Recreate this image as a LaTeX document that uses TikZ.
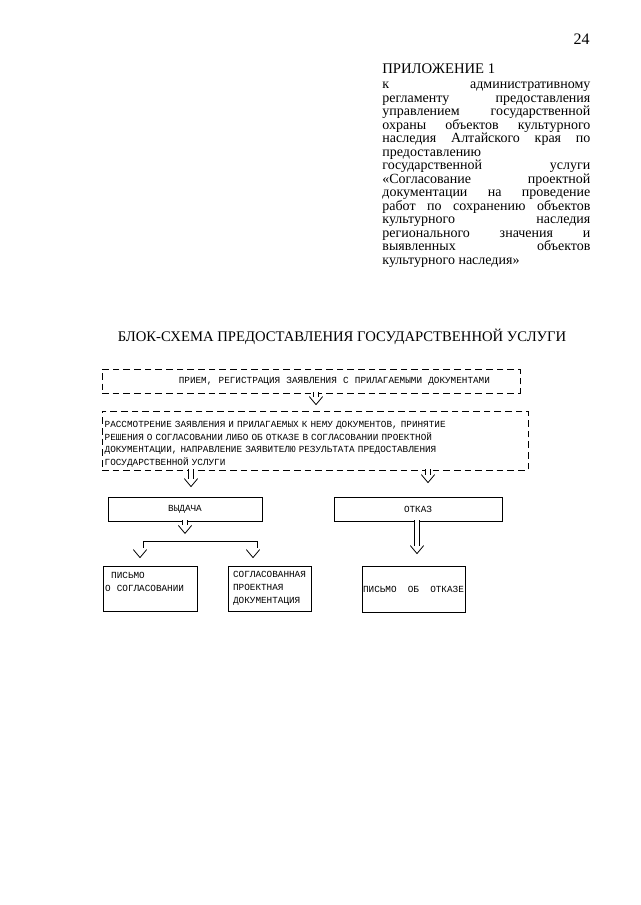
\documentclass[tikz,border=0pt]{standalone}
\usepackage{fontspec}
\setmainfont{Liberation Serif}
\newfontfamily\boxfont{Liberation Mono}
\usetikzlibrary{calc}

\newcommand{\jl}[1]{\makebox[156pt][s]{#1}}

\begin{document}
\begin{tikzpicture}[
  x=0.75pt, y=-0.75pt,
  line width=0.6pt,
  frame/.style={draw,inner sep=1.5pt,font=\boxfont\fontsize{7}{9.5}\selectfont},
  dframe/.style={frame,dash pattern=on 5pt off 3pt},
  shaft/.style={double,double distance=3.4pt},
  vtip/.pic={\draw (-5pt,0) -- (0,-6pt) -- (5pt,0);},
  annex/.style={inner sep=0,anchor=north west,align=left,
                font=\fontsize{10.5}{10.1}\selectfont}
]
  \fill[white] (0,0) rectangle (640,905);
  \useasboundingbox (0,0) rectangle (640,905);

  % header
  \node[anchor=base east,inner sep=0,font=\fontsize{12}{14}\selectfont] (pageno) at (590,45) {24};
  \node[anchor=base west,inner sep=0,font=\fontsize{11}{13}\selectfont] (annex) at (382,74) {ПРИЛОЖЕНИЕ 1};
  \node[annex] (basis) at (382,82) {\lineskiplimit=-5pt
    \jl{к административному}\\
    \jl{регламенту предоставления}\\
    \jl{управлением государственной}\\
    \jl{охраны объектов культурного}\\
    \jl{наследия Алтайского края по}\\
    предоставлению\\
    \jl{государственной услуги}\\
    \jl{«Согласование проектной}\\
    \jl{документации на проведение}\\
    \jl{работ по сохранению объектов}\\
    \jl{культурного наследия}\\
    \jl{регионального значения и}\\
    \jl{выявленных объектов}\\
    культурного наследия»};
  \node[anchor=base,inner sep=0,font=\fontsize{11}{13}\selectfont] (title) at (342,341)
    {БЛОК-СХЕМА ПРЕДОСТАВЛЕНИЯ ГОСУДАРСТВЕННОЙ УСЛУГИ};

  % boxes
  \node[dframe,minimum height=18pt,text width=268.5pt,inner xsep=22.5pt,align=right] (recv) at (311,381)
    {ПРИЕМ,~~РЕГИСТРАЦИЯ~~ЗАЯВЛЕНИЯ~~С~~ПРИЛАГАЕМЫМИ~~ДОКУМЕНТАМИ};
  \node[dframe,minimum height=44.25pt,text width=315.5pt,inner xsep=2pt,align=left] (review) at (315,440.5)
    {\rule{0pt}{10.5pt}РАССМОТРЕНИЕ ЗАЯВЛЕНИЯ И ПРИЛАГАЕМЫХ К НЕМУ ДОКУМЕНТОВ, ПРИНЯТИЕ\\
     РЕШЕНИЯ О СОГЛАСОВАНИИ ЛИБО ОБ ОТКАЗЕ В СОГЛАСОВАНИИ ПРОЕКТНОЙ\\
     ДОКУМЕНТАЦИИ, НАПРАВЛЕНИЕ ЗАЯВИТЕЛЮ РЕЗУЛЬТАТА ПРЕДОСТАВЛЕНИЯ\\
     ГОСУДАРСТВЕННОЙ УСЛУГИ};
  \node[frame,minimum width=115.5pt,minimum height=18pt] (vyd) at (185,509) {ВЫДАЧА};
  \node[frame,minimum width=126pt,minimum height=18pt] (otk) at (418,509) {ОТКАЗ};
  \node[frame,text width=67.5pt,minimum height=33.75pt,align=left] (agree) at (150,588.5)
    {~~ПИСЬМО\\О~~СОГЛАСОВАНИИ\\\mbox{}};
  \node[frame,text width=54.6pt,inner xsep=3.8pt,minimum height=33.75pt,align=left] (doc) at (269.5,588.5)
    {СОГЛАСОВАННАЯ\\ПРОЕКТНАЯ\\ДОКУМЕНТАЦИЯ};
  \node[frame,inner xsep=0.5pt,minimum width=77.25pt,minimum height=34.5pt] (refuse) at (413.5,589)
    {ПИСЬМО~~ОБ~~ОТКАЗЕ};

  % block arrows
  \coordinate (t1) at ($(review.north)+(1,-14)$);
  \draw[shaft] ($(t1 |- recv.south)+(0,-1)$) -- (t1);
  \pic at (t1) {vtip};
  \coordinate (t2) at ($(vyd.north)+(6,-18)$);
  \draw[shaft] ($(t2 |- review.south)+(0,-1)$) -- (t2);
  \pic at (t2) {vtip};
  \coordinate (t3) at ($(otk.north)+(10,-22)$);
  \draw[shaft] ($(t3 |- review.south)+(0,-1)$) -- (t3);
  \pic at (t3) {vtip};
  \coordinate (t4) at ($(vyd.south)+(0,4)$);
  \draw[shaft] ($(vyd.south)+(0,-1)$) -- (t4);
  \pic at (t4) {vtip};
  \coordinate (t5) at ($(refuse.north)+(3.5,-20)$);
  \draw[shaft] ($(t5 |- otk.south)+(0,-1)$) -- (t5);
  \pic at (t5) {vtip};

  % split to the two letters
  \coordinate (bl) at ($(agree.north)+(-7,-24)$);
  \coordinate (br) at ($(doc.north)+(-12.5,-24)$);
  \draw (bl) ++(0,6) -- (bl) -- (br) -- ++(0,6);
  \pic at ($(agree.north)+(-10,-16)$) {vtip};
  \pic at ($(doc.north)+(-16.5,-16)$) {vtip};
\end{tikzpicture}
\end{document}
